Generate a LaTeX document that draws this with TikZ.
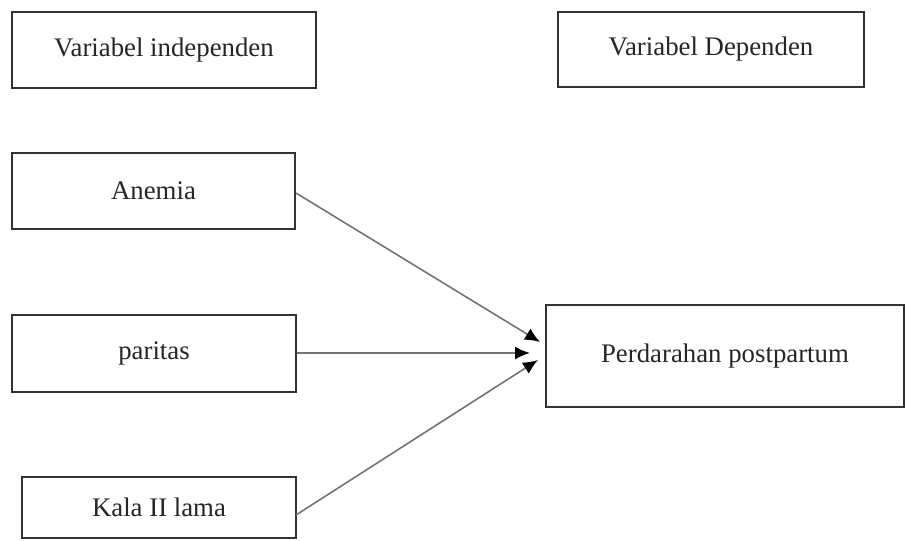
\documentclass[tikz,border=0pt]{standalone}
\usepackage{fontspec}
\setmainfont{Liberation Serif}
\usetikzlibrary{arrows.meta}
\tikzset{
  box/.style={draw=black!80, line width=1pt, fill=white, inner sep=0pt, align=center,
    font=\fontsize{13.4}{16}\selectfont, text=black!85},
  conn/.style={draw=black!55, line width=0.8pt, -{Latex[length=7.5pt,width=6.5pt,color=black]}}
}
\begin{document}
\begin{tikzpicture}[x=0.5pt,y=-0.5pt]
\useasboundingbox (0,0) rectangle (906,541);
\node[box, minimum width=152pt, minimum height=38pt] (indep) at (164,50) {Variabel independen};
\node[box, minimum width=153pt, minimum height=37.5pt] (dep) at (711,49.5) {Variabel Dependen};
\node[box, minimum width=141.5pt, minimum height=38pt] (anemia) at (153.5,191) {Anemia};
\node[box, minimum width=142pt, minimum height=38.5pt] (paritas) at (154,353) {paritas};
\node[box, minimum width=137pt, minimum height=30.5pt] (kala) at (159,507.5) {Kala II lama};
\node[box, minimum width=179pt, minimum height=51pt] (perd) at (725,356) {Perdarahan postpartum};
\coordinate (a0) at (296,193);
\coordinate (k0) at (296,515);
\coordinate (t1) at (540,342);
\coordinate (t2) at (530,353);
\coordinate (t3) at (538,360);
\draw[conn] (a0) -- (t1);
\draw[conn] (paritas.east) -- (t2);
\draw[conn] (k0) -- (t3);
\end{tikzpicture}
\end{document}
